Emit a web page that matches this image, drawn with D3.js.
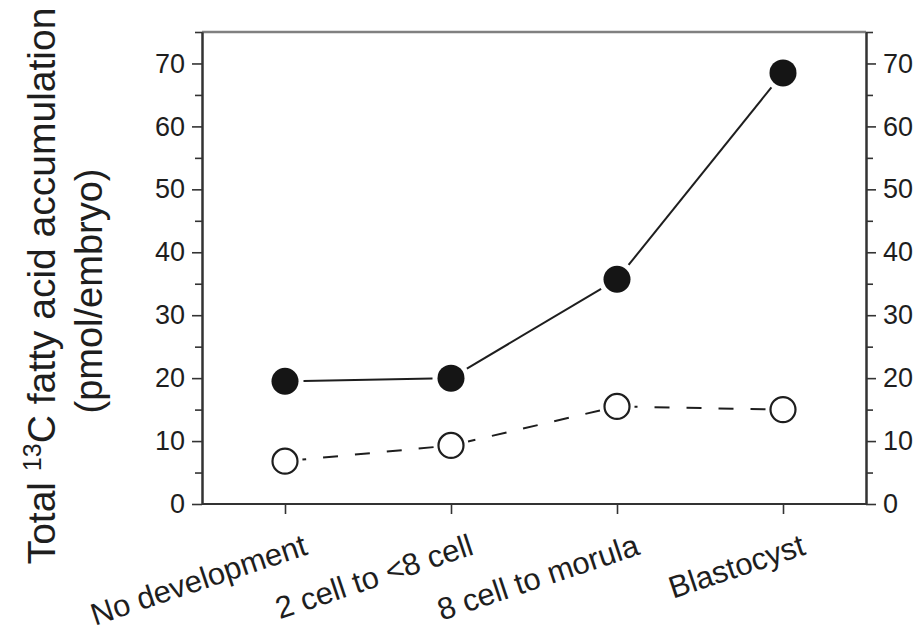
<!DOCTYPE html>
<html>
<head>
<meta charset="utf-8">
<script src="https://cdn.jsdelivr.net/npm/d3@7"></script>
<style>
  body { margin: 0; background: #fff; }
  svg { display: block; font-family: "Liberation Sans", Arial, sans-serif; }
  .axis text { fill: #1e1e1e; }
</style>
</head>
<body>
<div class="container__chart"></div>
<script>
//data
const categories = ["No development", "2 cell to <8 cell", "8 cell to morula", "Blastocyst"];
const filledValues = [19.5, 20.0, 35.7, 68.5];
const openValues = [6.8, 9.3, 15.5, 15.0];
const majorTicks = [0, 10, 20, 30, 40, 50, 60, 70];
const minorTicks = [5, 15, 25, 35, 45, 55, 65, 75];

const WIDTH = 915;
const HEIGHT = 635;
const LEFT = 202, RIGHT = 866, TOP = 32, BOTTOM = 504;
const INK = "#1e1e1e";

const svg = d3.select(".container__chart")
    .append("svg")
    .attr("width", WIDTH)
    .attr("height", HEIGHT);

const xScale = d3.scalePoint().domain(categories).range([LEFT, RIGHT]).padding(0.5);
const yScale = d3.scaleLinear().domain([0, 75]).range([BOTTOM, TOP]);

//top frame line
svg.append("line")
    .attr("x1", LEFT).attr("x2", RIGHT)
    .attr("y1", TOP).attr("y2", TOP)
    .attr("stroke", "#808080")
    .attr("stroke-width", 2.5);

//y axes (left + right), major and minor ticks
const styleAxis = g => {
    g.selectAll("path.domain").attr("stroke", "#333").attr("stroke-width", 2);
    g.selectAll(".tick line").attr("stroke", "#333").attr("stroke-width", 1.6);
    g.selectAll(".tick text").style("font-size", "27px").attr("fill", INK);
};

[["left", LEFT, d3.axisLeft], ["right", RIGHT, d3.axisRight]].forEach(([side, xPos, axisFn]) => {
    svg.append("g")
        .attr("class", "axis")
        .attr("transform", `translate(${xPos},0)`)
        .call(axisFn(yScale).tickValues(minorTicks).tickSize(7).tickSizeOuter(0).tickFormat(""))
        .call(styleAxis);

    svg.append("g")
        .attr("class", "axis")
        .attr("id", side + "-axis")
        .attr("transform", `translate(${xPos},0)`)
        .call(axisFn(yScale).tickValues(majorTicks).tickSize(10).tickSizeOuter(0).tickPadding(7))
        .call(styleAxis);
});

//x axis
const xAxis = svg.append("g")
    .attr("class", "axis")
    .attr("transform", `translate(0,${BOTTOM})`)
    .call(d3.axisBottom(xScale).tickSize(10).tickSizeOuter(0).tickFormat(""))
    .call(styleAxis);

xAxis.select("path.domain").attr("d", `M${LEFT},0H${RIGHT}`);

svg.append("g")
    .selectAll("text")
    .data(categories)
    .enter()
    .append("text")
    .attr("transform", d => `translate(${xScale(d) + 24},554) rotate(-18.5)`)
    .attr("text-anchor", "end")
    .style("font-size", "31px")
    .attr("fill", INK)
    .text(d => d);

//y title
const title = svg.append("text")
    .attr("transform", "translate(55,286) rotate(-90)")
    .attr("text-anchor", "middle")
    .style("font-size", "39px")
    .attr("fill", INK);
title.append("tspan").text("Total ");
title.append("tspan").attr("dy", -14).style("font-size", "25px").text("13");
title.append("tspan").attr("dy", 14).text("C fatty acid accumulation");

svg.append("text")
    .attr("transform", "translate(102,291) rotate(-90)")
    .attr("text-anchor", "middle")
    .style("font-size", "38px")
    .attr("fill", INK)
    .text("(pmol/embryo)");

//series lines: drawn segment by segment with a gap around markers
const R_FILLED = 13.5, R_OPEN = 12.5, GAP = 5;

const drawSegments = (values, r, dashed) => {
    const pts = values.map((v, i) => [xScale(categories[i]), yScale(v)]);
    for (let i = 0; i < pts.length - 1; i++) {
        // go from the right marker back to the left one so the dash pattern starts at the end
        const [x1, y1] = pts[i + 1];
        const [x0, y0] = pts[i];
        const len = Math.hypot(x0 - x1, y0 - y1);
        const ux = (x0 - x1) / len, uy = (y0 - y1) / len;
        const off = r + GAP;
        const seg = svg.append("line")
            .attr("x1", x1 + ux * off).attr("y1", y1 + uy * off)
            .attr("x2", x0 - ux * off).attr("y2", y0 - uy * off)
            .attr("stroke", INK)
            .attr("stroke-width", 2);
        if (dashed) seg.attr("stroke-dasharray", "15,17");
    }
};

drawSegments(filledValues, R_FILLED, false);
drawSegments(openValues, R_OPEN, true);

//markers
svg.append("g")
    .selectAll("circle")
    .data(filledValues)
    .enter()
    .append("circle")
    .attr("cx", (d, i) => xScale(categories[i]))
    .attr("cy", d => yScale(d))
    .attr("r", R_FILLED)
    .attr("fill", "#151515");

svg.append("g")
    .selectAll("circle")
    .data(openValues)
    .enter()
    .append("circle")
    .attr("cx", (d, i) => xScale(categories[i]))
    .attr("cy", d => yScale(d))
    .attr("r", R_OPEN)
    .attr("fill", "#fff")
    .attr("stroke", INK)
    .attr("stroke-width", 2.2);
</script>
</body>
</html>
